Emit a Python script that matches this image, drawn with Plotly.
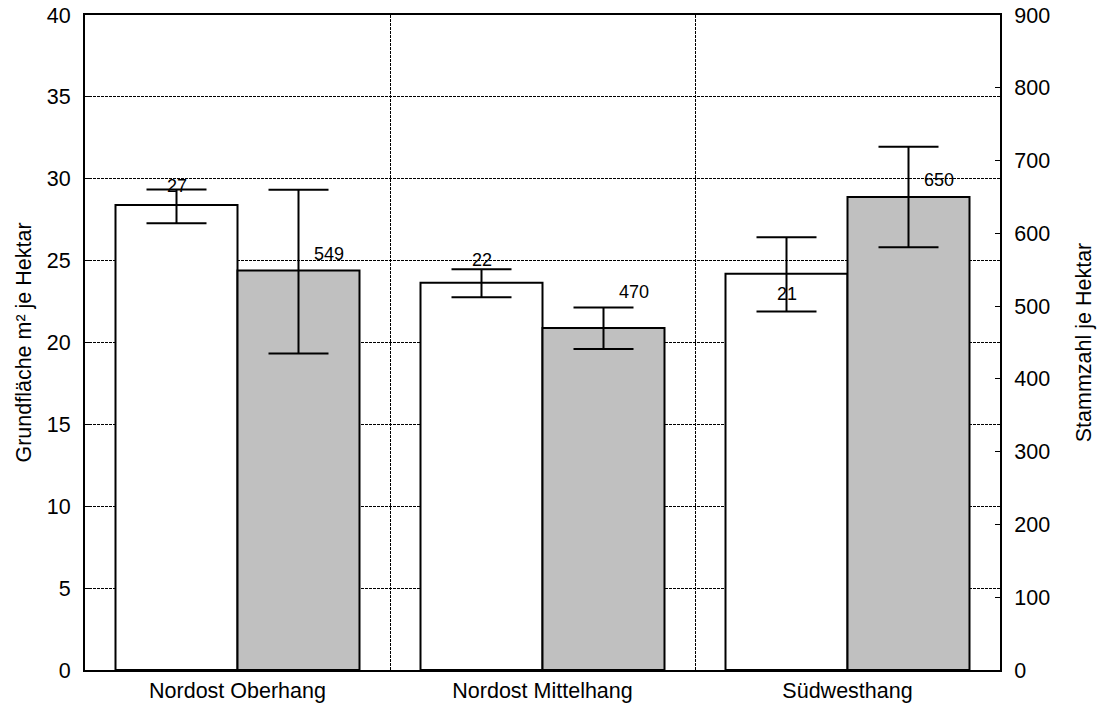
import plotly.graph_objects as go

categories = ["Nordost Oberhang", "Nordost Mittelhang", "Südwesthang"]

# Grundfläche (left axis, m² je Hektar)
basal_area = [28.4, 23.65, 24.2]
basal_upper = [29.35, 24.47, 26.42]
basal_lower = [27.28, 22.76, 21.89]
basal_labels = ["27", "22", "21"]
basal_label_y = [29.56, 25.04, 22.96]

# Stammzahl (right axis, je Hektar)
stems = [549, 470, 650]
stems_upper = [660, 498, 719]
stems_lower = [435, 441, 581]
stems_labels = ["549", "470", "650"]
stems_label_y = [572, 520, 673]

left_ticks = [0, 5, 10, 15, 20, 25, 30, 35, 40]
right_ticks = [0, 100, 200, 300, 400, 500, 600, 700, 800, 900]

FONT = "Arial, Liberation Sans, sans-serif"

fig = go.Figure()
fig.add_trace(go.Bar(
    x=categories, y=basal_area, yaxis="y", offsetgroup="a",
    marker=dict(color="white", line=dict(color="black", width=2)),
    error_y=dict(type="data", symmetric=False,
                 array=[u - v for u, v in zip(basal_upper, basal_area)],
                 arrayminus=[v - l for v, l in zip(basal_area, basal_lower)],
                 color="black", thickness=2, width=30),
    showlegend=False, hoverinfo="skip",
))
fig.add_trace(go.Bar(
    x=categories, y=stems, yaxis="y2", offsetgroup="b",
    marker=dict(color="#c0c0c0", line=dict(color="black", width=2)),
    error_y=dict(type="data", symmetric=False,
                 array=[u - v for u, v in zip(stems_upper, stems)],
                 arrayminus=[v - l for v, l in zip(stems, stems_lower)],
                 color="black", thickness=2, width=30),
    showlegend=False, hoverinfo="skip",
))

annotations = []
for i, (t, yv) in enumerate(zip(basal_labels, basal_label_y)):
    annotations.append(dict(x=i - 0.2, y=yv, xref="x", yref="y", text=t,
                            showarrow=False, font=dict(size=18, color="black", family=FONT)))
for i, (t, yv) in enumerate(zip(stems_labels, stems_label_y)):
    annotations.append(dict(x=i + 0.3, y=yv, xref="x", yref="y2", text=t,
                            showarrow=False, font=dict(size=18, color="black", family=FONT)))

GRID_DASH = "3px,1px"

fig.update_layout(
    width=1097, height=709,
    margin=dict(l=85, r=97, t=15, b=39, autoexpand=False),
    paper_bgcolor="white", plot_bgcolor="white",
    font=dict(family=FONT, size=21.5, color="black"),
    barmode="group", bargap=0.2, bargroupgap=0,
    annotations=annotations,
    xaxis=dict(
        tickson="boundaries", showgrid=True, gridcolor="black", griddash=GRID_DASH, gridwidth=1,
        showline=True, linecolor="black", linewidth=2, mirror=True,
        ticks="", tickfont=dict(size=21.5), automargin=False,
        ticklabeloverflow="allow",
    ),
    yaxis=dict(
        range=[0, 40], tickvals=left_ticks, showgrid=True, gridcolor="black",
        griddash=GRID_DASH, gridwidth=1, zeroline=False,
        showline=True, linecolor="black", linewidth=2,
        ticks="inside", ticklen=5, tickcolor="black", ticklabelstandoff=8,
        title=dict(text="Grundfläche m² je Hektar", font=dict(size=21.5), standoff=9),
        automargin=False, ticklabeloverflow="allow",
    ),
    yaxis2=dict(
        range=[0, 900], tickvals=right_ticks, overlaying="y", side="right",
        showgrid=False, zeroline=False,
        showline=True, linecolor="black", linewidth=2,
        ticks="inside", ticklen=5, tickcolor="black", ticklabelstandoff=8,
        title=dict(text="Stammzahl je Hektar", font=dict(size=21.5), standoff=27),
        automargin=False, ticklabeloverflow="allow",
    ),
)

fig.write_html("out.html", config={"displayModeBar": False},
               post_script="document.body.style.margin='0';document.body.style.overflow='hidden';")
